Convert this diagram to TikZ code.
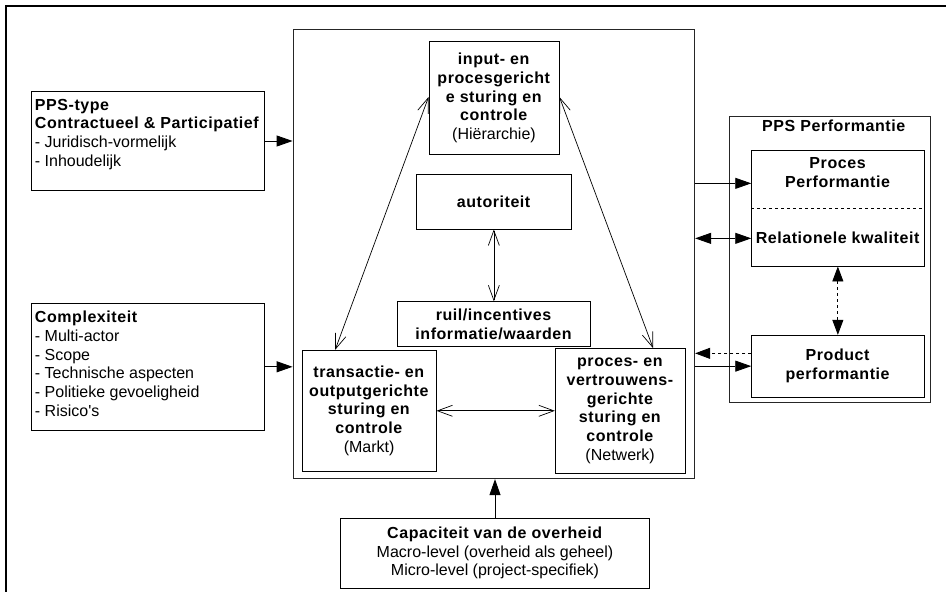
\documentclass[tikz,border=0pt]{standalone}
\usepackage{fontspec}
\setmainfont{Liberation Sans}[Ligatures=TeXOff, BoldFeatures={LetterSpace=3.5}]
\usetikzlibrary{arrows.meta,calc}
\begin{document}
\begin{tikzpicture}[x=1pt,y=-1pt,
  font=\fontsize{16}{18.7}\selectfont,
  box/.style={draw=black, line width=0.9pt, rectangle, inner sep=0pt, align=center},
  frame/.style={draw=black!85, line width=0.8pt, rectangle, inner sep=0pt},
  txt/.style={inner sep=0pt, align=left},
  ctxt/.style={inner sep=0pt, align=center},
  solidarrow/.style={line width=0.9pt, -{Triangle[length=16pt,width=11pt]}},
  solidboth/.style={line width=0.9pt, {Triangle[length=16pt,width=11pt]}-{Triangle[length=16pt,width=11pt]}},
  dotarrow/.style={line width=0.9pt, dash pattern=on 3pt off 3pt, -{Triangle[length=15pt,width=11pt]}},
  dotboth/.style={line width=0.9pt, dash pattern=on 3pt off 3pt, {Triangle[length=15pt,width=11pt]}-{Triangle[length=15pt,width=11pt]}},
  barbboth/.style={line width=0.7pt, {Straight Barb[length=15pt,width=11pt]}-{Straight Barb[length=15pt,width=11pt]}}
]
\useasboundingbox (0,0) rectangle (946,592);

% outer frame, running off the page at right and bottom
\draw[line width=2.4pt] (6,620) -- (6,6) -- (970,6);

% input boxes on the left
\node[box, minimum width=232.6, minimum height=98.6] (ppsbox) at (148,141) {};
\node[txt, anchor=north west] (ppstxt) at ($(ppsbox.north west)+(3.5,7.5)$)
  {\textbf{PPS-type}\\\textbf{Contractueel \& Participatief}\\- Juridisch-vormelijk\\- Inhoudelijk};

\node[box, minimum width=232.6, minimum height=127] (cplx) at (148,366.8) {};
\node[txt, anchor=north west] (cplxtxt) at ($(cplx.north west)+(3.5,8.2)$)
  {\textbf{Complexiteit}\\- Multi-actor\\- Scope\\- Technische aspecten\\- Politieke gevoeligheid\\- Risico's};

% central governance block
\node[frame, minimum width=401.7, minimum height=449.7] (central) at (493.85,253.85) {};

\node[box, minimum width=130, minimum height=112.6] (inp) at (494,98)
  {\textbf{input- en}\\\textbf{procesgericht}\\\textbf{e sturing en}\\\textbf{controle}\\(Hiërarchie)};
\node[box, minimum width=155.7, minimum height=54.7] (aut) at (493.85,201.65) {\textbf{autoriteit}};
\node[box, minimum width=193, minimum height=45] (ruil) at (493.8,324.2)
  {\textbf{ruil/incentives}\\\textbf{informatie/waarden}};
\node[box, minimum width=133.7, minimum height=121] (trans) at (369.15,410.8)
  {\textbf{transactie- en}\\\textbf{outputgerichte}\\\textbf{sturing en}\\\textbf{controle}\\(Markt)};
\node[box, minimum width=129.7, minimum height=124.3] (netw) at (620.15,410.85)
  {\textbf{proces- en}\\\textbf{vertrouwens-}\\\textbf{gerichte}\\\textbf{sturing en}\\\textbf{controle}\\(Netwerk)};

% government capacity
\node[box, minimum width=309.4, minimum height=69.7] (cap) at (495,553.15)
  {\textbf{Capaciteit van de overheid}\\Macro-level (overheid als geheel)\\Micro-level (project-specifiek)};

% performance block on the right
\node[frame, minimum width=201, minimum height=286] (perf) at (830.2,259.7) {};
\node[ctxt] (perftitle) at (834,126) {\textbf{PPS Performantie}};
\node[box, minimum width=172.3, minimum height=115.3] (procperf) at (837.85,208.35) {};
\node[ctxt] (proctxt) at (837.85,172.5) {\textbf{Proces}\\\textbf{Performantie}};
\node[ctxt] (reltxt) at (837.85,237.5) {\textbf{Relationele kwaliteit}};
\draw[line width=0.8pt, dash pattern=on 3pt off 3pt] (procperf.west) -- (procperf.east);
\node[box, minimum width=172.3, minimum height=61.7] (prodperf) at (837.85,366.15)
  {\textbf{Product}\\\textbf{performantie}};

% connectors into the central block
\draw[solidarrow] (ppsbox.east) -- (ppsbox.east -| central.west);
\draw[solidarrow] (cplx.east) -- (cplx.east -| central.west);
\draw[solidarrow] (cap.north) -- (cap.north |- central.south);

% relations inside the central block
\draw[barbboth] ($(inp.west)+(0,-1)$) -- ($(trans.north)+(-34,0)$);
\draw[barbboth] ($(inp.east)+(0,-1)$) -- ($(netw.north)+(33,0)$);
\draw[barbboth] (aut.south) -- (aut.south |- ruil.north);
\draw[barbboth] (trans.east) -- (trans.east -| netw.west);

% links to performance
\path (procperf.west) ++(0,-25) coordinate (pa);
\path (procperf.west) ++(0,30) coordinate (pb);
\path (prodperf.west) ++(0,-12.8) coordinate (pc);
\draw[solidarrow] (pa -| central.east) -- (pa);
\draw[solidboth] (pb -| central.east) -- (pb);
\draw[dotarrow] (pc) -- (pc -| central.east);
\draw[solidarrow] (prodperf.west -| central.east) -- (prodperf.west);
\draw[dotboth] (procperf.south) -- (prodperf.north);
\end{tikzpicture}
\end{document}
